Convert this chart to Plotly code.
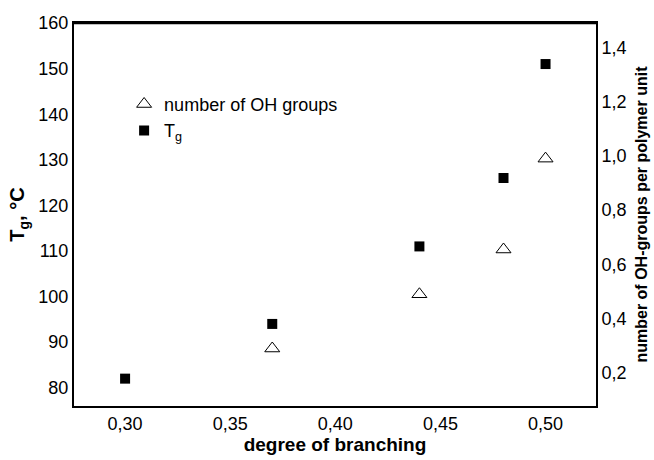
import plotly.graph_objects as go

branching_tg = [0.30, 0.37, 0.44, 0.48, 0.50]
tg_values = [82, 94, 111, 126, 151]
branching_oh = [0.37, 0.44, 0.48, 0.50]
oh_values = [0.29, 0.49, 0.655, 0.99]

FONT = "Liberation Sans, Arial, sans-serif"

fig = go.Figure()
fig.add_trace(go.Scatter(
    x=branching_oh, y=oh_values, mode="markers", name="number of OH groups",
    yaxis="y2",
    marker=dict(symbol="triangle-up-open", size=13, color="black", line=dict(width=1, color="black")),
))
fig.add_trace(go.Scatter(
    x=branching_tg, y=tg_values, mode="markers", name="T<sub>g</sub>",
    marker=dict(symbol="square", size=10, color="black"),
))

fig.update_layout(
    width=654, height=460,
    margin=dict(l=74, r=58, t=23, b=54, autoexpand=False),
    paper_bgcolor="white", plot_bgcolor="white",
    separators=", ",
    font=dict(family=FONT, color="black", size=18),
    showlegend=True,
    legend=dict(x=0.096, y=0.836, xanchor="left", yanchor="top",
                bgcolor="rgba(0,0,0,0)", font=dict(size=18), tracegroupgap=0),
    xaxis=dict(
        range=[0.2757, 0.524], tickvals=[0.30, 0.35, 0.40, 0.45, 0.50], tickformat=".2f",
        showgrid=False, zeroline=False, showline=True, linecolor="black", linewidth=2,
        mirror=True, ticks="", automargin=False,
        title=dict(text="<b>degree of branching</b>", font=dict(size=19), standoff=0),
    ),
    yaxis=dict(
        range=[76, 160], tickvals=[80, 90, 100, 110, 120, 130, 140, 150, 160],
        showgrid=False, zeroline=False, showline=True, linecolor="black", linewidth=2,
        ticks="", automargin=False,
        title=dict(text="<b>T<sub>g</sub>, °C</b>", font=dict(size=20), standoff=8),
    ),
    yaxis2=dict(
        range=[0.078, 1.49], tickvals=[0.2, 0.4, 0.6, 0.8, 1.0, 1.2, 1.4], tickformat=".1f",
        overlaying="y", side="right",
        showgrid=False, zeroline=False, showline=True, linecolor="black", linewidth=2,
        ticks="", automargin=False,
        title=dict(text="<b>number of OH-groups per polymer unit</b>", font=dict(size=16), standoff=10),
    ),
    shapes=[dict(type="line", xref="paper", yref="paper", x0=0, x1=1, y0=1, y1=1,
                 line=dict(color="black", width=2.5), layer="above")],
)

fig.write_html("out.html", config={"displayModeBar": False},
               post_script="document.body.style.margin='0';document.body.style.overflow='hidden';")
